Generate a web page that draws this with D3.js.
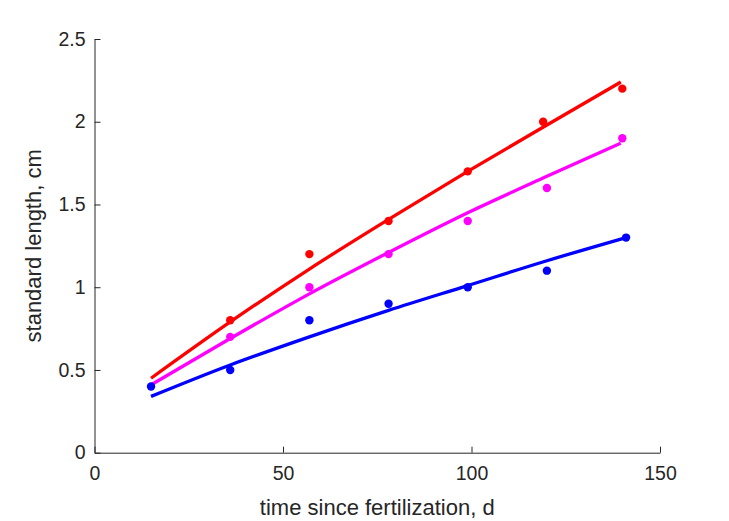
<!DOCTYPE html>
<html>
<head>
<meta charset="utf-8">
<script src="https://cdn.jsdelivr.net/npm/d3@7"></script>
<style>
  html, body { margin: 0; padding: 0; background: #fff; }
  svg { display: block; font-family: "Liberation Sans", Arial, Helvetica, sans-serif; }
</style>
</head>
<body>
<svg id="chart" width="729" height="521"></svg>
<script>
// ---- data ----
const xTicks = [0, 50, 100, 150];
const yTicks = [0, 0.5, 1, 1.5, 2, 2.5];
const yTickLabels = ["0", "0.5", "1", "1.5", "2", "2.5"];

// observed points
const redX = [36, 57, 78, 99, 119, 140];
const redY = [0.8, 1.2, 1.4, 1.7, 2.0, 2.2];
const magX = [36, 57, 78, 99, 120, 140];
const magY = [0.7, 1.0, 1.2, 1.4, 1.6, 1.9];
const blueX = [15, 36, 57, 78, 99, 120, 141];
const blueY = [0.4, 0.5, 0.8, 0.9, 1.0, 1.1, 1.3];

// fitted curves
const redFitX = [15, 36, 57, 78, 99, 120, 139.6];
const redFitY = [0.45, 0.79, 1.11, 1.41, 1.70, 1.98, 2.24];
const magFitX = [15, 36, 57, 78, 99, 120, 139.6];
const magFitY = [0.41, 0.69, 0.96, 1.21, 1.45, 1.67, 1.87];
const blueFitX = [15, 36, 57, 78, 99, 120, 141];
const blueFitY = [0.34, 0.53, 0.70, 0.86, 1.01, 1.16, 1.30];

const series = [
  { color: "#ff0000", px: redX, py: redY, fx: redFitX, fy: redFitY },
  { color: "#ff00ff", px: magX, py: magY, fx: magFitX, fy: magFitY },
  { color: "#0000ff", px: blueX, py: blueY, fx: blueFitX, fy: blueFitY }
];

// ---- layout ----
const svg = d3.select("#chart");
const mLeft = 94.5, mRight = 660, mTop = 39, mBottom = 452.7;
const axisColor = "#262626";

const x = d3.scaleLinear().domain([0, 150]).range([mLeft, mRight]);
const y = d3.scaleLinear().domain([0, 2.5]).range([mBottom, mTop]);

// x axis
const xAxis = svg.append("g")
  .attr("transform", `translate(0,${mBottom})`)
  .call(d3.axisBottom(x).tickValues(xTicks).tickSizeInner(-6).tickSizeOuter(0).tickPadding(14));
// y axis
const yAxis = svg.append("g")
  .attr("transform", `translate(${mLeft},0)`)
  .call(d3.axisLeft(y).tickValues(yTicks).tickFormat((d, i) => yTickLabels[i]).tickSizeInner(-6).tickSizeOuter(0).tickPadding(9));

[xAxis, yAxis].forEach(g => {
  g.attr("font-family", null).attr("font-size", null);
  g.select(".domain").attr("stroke", axisColor).attr("stroke-width", 1);
  g.selectAll(".tick line").attr("stroke", axisColor).attr("stroke-width", 1);
  g.selectAll(".tick text").attr("fill", axisColor).style("font-size", "19.5px");
});
xAxis.selectAll(".tick text").attr("dy", "0.71em").attr("y", 13.5);

// fitted lines
const line = d3.line().x(d => x(d[0])).y(d => y(d[1])).curve(d3.curveMonotoneX);
series.forEach(s => {
  svg.append("path")
    .datum(s.fx.map((v, i) => [v, s.fy[i]]))
    .attr("d", line)
    .attr("fill", "none")
    .attr("stroke", s.color)
    .attr("stroke-width", 3.3);
});

// points
series.forEach(s => {
  svg.append("g").selectAll("circle")
    .data(s.px.map((v, i) => [v, s.py[i]]))
    .join("circle")
    .attr("cx", d => x(d[0]))
    .attr("cy", d => y(d[1]))
    .attr("r", 4.2)
    .attr("fill", s.color);
});

// axis labels
svg.append("text")
  .attr("x", (mLeft + mRight) / 2)
  .attr("y", 515)
  .attr("text-anchor", "middle")
  .attr("fill", axisColor)
  .style("font-size", "22px")
  .text("time since fertilization, d");

svg.append("text")
  .attr("transform", `translate(41,${(mTop + mBottom) / 2}) rotate(-90)`)
  .attr("text-anchor", "middle")
  .attr("fill", axisColor)
  .style("font-size", "22px")
  .text("standard length, cm");
</script>
</body>
</html>
